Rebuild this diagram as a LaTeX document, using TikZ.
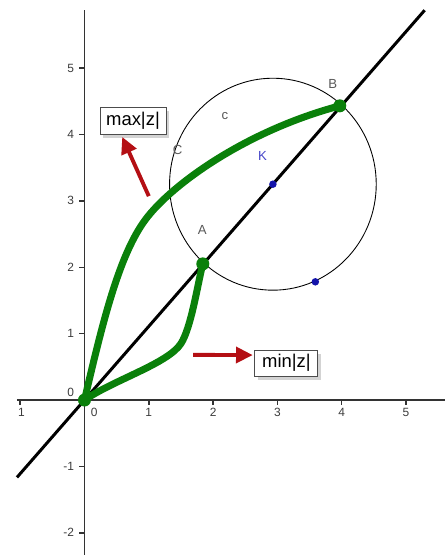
\documentclass[tikz,border=0pt]{standalone}
\usepackage{fontspec}
\setmainfont{Liberation Sans}
\usetikzlibrary{arrows.meta,positioning,shadows}
\definecolor{ggbgreen}{RGB}{10,128,10}
\definecolor{ggbblue}{RGB}{20,20,170}
\definecolor{klabel}{RGB}{70,70,200}
\definecolor{arrowred}{RGB}{180,15,20}
\definecolor{ticktext}{RGB}{60,60,60}

\begin{document}
\begin{tikzpicture}[
    x=1.286cm, y=1.328cm,
    axis/.style={draw=black!80, line width=0.8pt},
    ticklabel/.style={font=\fontsize{6.8}{8}\selectfont, text=ticktext, inner sep=1pt},
    ptlabel/.style={font=\fontsize{7.5}{9}\selectfont, text=black!65, inner sep=1pt},
    greencurve/.style={draw=ggbgreen, line width=4pt, line cap=round},
    greendot/.style={circle, fill=ggbgreen, inner sep=0pt, minimum size=0.26cm},
    bluedot/.style={circle, fill=ggbblue, inner sep=0pt, minimum size=0.15cm},
    notebox/.style={draw=black!70, fill=white, line width=0.5pt,
      drop shadow={shadow xshift=1.5pt, shadow yshift=-2pt, opacity=0.35},
      font=\fontsize{10.5}{12}\selectfont, inner sep=2pt, minimum height=0.55cm},
    arrow/.style={-{Triangle[length=9.5pt,width=9pt]}, draw=arrowred, line width=2.2pt, shorten >=1pt}
  ]
  \useasboundingbox (-1.314,-2.334) rectangle (5.607,6.024);
  % axes
  \draw[axis] (-1.05,0) -- (5.607,0);
  \draw[axis] (0,-2.334) -- (0,5.87);
  \foreach \x in {1,...,5} {
    \draw[axis] (\x,0) -- ++(0,-0.08);
    \node[ticklabel] (xl\x) at (\x,-0.19) {\x};
  }
  \draw[axis] (-1,0) -- ++(0,-0.08);
  \node[ticklabel] (xlm) at (-0.98,-0.19) {1};
  \node[ticklabel] (xlz) at (0.15,-0.19) {0};
  \node[ticklabel, anchor=east] (ylz) at (-0.13,0.11) {0};
  \foreach \y in {-2,-1,1,2,3,4,5} {
    \draw[axis] (0,\y) -- ++(-0.09,0);
    \node[ticklabel, anchor=east] (yl\y) at (-0.13,\y) {\y};
  }
  % line and circle
  \coordinate (O) at (0,0);
  \coordinate (lo) at (-1.05,-1.165);
  \coordinate (hi) at (5.29,5.87);
  \coordinate (K) at (2.93,3.25);
  \coordinate (A) at (1.84,2.05);
  \coordinate (B) at (3.97,4.43);
  \draw[line width=1.7pt] (lo) -- (hi);
  \draw[line width=0.5pt] (K) circle[x radius=1.607, y radius=1.596];
  % paths of |z|
  \draw[greencurve] (O) .. controls (0.3,1.25) and (0.55,2.2) .. (0.95,2.72)
    .. controls (1.35,3.24) and (2.5,4.05) .. (B);
  \draw[greencurve] (O) .. controls (0.45,0.3) and (1.3,0.55) .. (1.5,0.85)
    .. controls (1.66,1.09) and (1.76,1.75) .. (A);
  \node[greendot] (dO) at (O) {};
  \node[greendot] (dA) at (A) {};
  \node[greendot] (dB) at (B) {};
  \node[bluedot] (dK) at (K) {};
  \node[bluedot] (dP) at (3.59,1.78) {};
  % labels
  \node[ptlabel] (labA) at (1.83,2.56) {A};
  \node[ptlabel] (labB) at (3.86,4.76) {B};
  \node[ptlabel] (labC) at (1.45,3.77) {C};
  \node[ptlabel] (labc) at (2.185,4.28) {c};
  \node[ptlabel, text=klabel] (labK) at (2.77,3.67) {K};
  % notes
  \node[notebox, minimum width=1.32cm] (maxbox) at (0.754,4.20) {max|z|};
  \node[notebox, minimum width=1.26cm, minimum height=0.52cm] (minbox) at (3.14,0.557) {min|z|};
  \coordinate (maxtail) at (1.0,3.07);
  \coordinate (mintail) at (1.69,0.68);
  \draw[arrow] (maxtail) -- (maxbox.231.6);
  \draw[arrow] (mintail) -- (minbox.166);
\end{tikzpicture}
\end{document}
